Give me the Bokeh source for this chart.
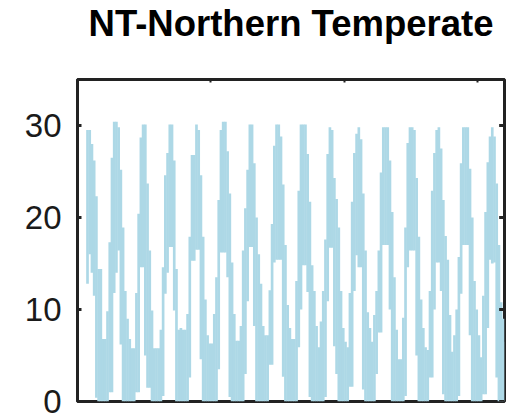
from bokeh.plotting import figure
from bokeh.models import Range1d, LinearAxis, FixedTicker, Title
from bokeh.embed import file_html
from bokeh.resources import INLINE

title_text = "NT-Northern Temperate"
start_year = 1995
start_month = 5  # first monthly value: May 1995

# monthly upper / lower extent of the temperature trace
monthly_high = [
    29.5, 29.5, 28.0, 26.2, 22.3, 14.4, 14.4, 6.8, 6.8, 9.8, 17.3, 26.5,
    30.4, 30.4, 29.8, 25.2, 18.9, 12.0, 9.0, 6.8, 5.8, 5.8, 11.8, 20.4,
    28.7, 30.1, 30.1, 23.7, 16.4, 9.9, 5.8, 5.8, 5.8, 7.8, 14.6, 24.6,
    27.0, 30.1, 30.1, 26.2, 14.4, 7.8, 8.0, 7.8, 7.8, 9.5, 17.9, 26.8,
    26.8, 30.1, 29.5, 24.6, 17.9, 11.1, 7.2, 6.3, 6.3, 9.5, 13.5, 21.9,
    29.5, 30.4, 30.4, 27.2, 22.6, 15.1, 9.5, 6.6, 6.6, 8.2, 16.4, 21.0,
    25.2, 30.1, 30.1, 25.9, 20.0, 16.0, 12.8, 8.2, 7.2, 7.2, 12.1, 19.3,
    27.8, 30.1, 30.1, 28.8, 23.6, 17.0, 10.5, 8.0, 6.8, 6.8, 13.1, 22.9,
    30.1, 30.1, 30.1, 26.9, 21.7, 14.8, 12.0, 8.2, 5.9, 8.7, 12.0, 17.6,
    26.9, 29.8, 29.5, 24.3, 22.0, 18.9, 12.0, 8.0, 6.5, 5.9, 11.8, 21.7,
    27.0, 29.1, 29.8, 28.5, 22.6, 16.4, 9.7, 8.0, 6.5, 9.4, 12.0, 16.4,
    24.9, 29.8, 29.8, 29.8, 26.2, 20.6, 13.5, 7.8, 4.6, 4.6, 9.1, 18.9,
    28.1, 29.8, 29.8, 29.5, 24.3, 17.9, 11.1, 8.0, 5.9, 5.6, 12.0, 22.9,
    27.0, 29.5, 29.8, 27.5, 21.9, 18.0, 15.4, 9.4, 5.4, 7.2, 10.0, 15.7,
    25.9, 29.8, 29.8, 29.8, 25.3, 20.0, 13.1, 10.0, 7.2, 4.8, 11.5, 20.6,
    26.0, 28.8, 29.8, 28.8, 23.7, 17.0, 10.8, 9.0, 6.5,
]
monthly_low = [
    12.8, 16.0, 14.0, 11.5, 0.4, 0, 0, 0, 0, 0, 1.0, 1.0,
    11.8, 14.0, 16.4, 6.2, 0, 0, 0, 0, 0, 0, 1.0, 1.0,
    14.6, 14.6, 5.0, 1.5, 1.5, 0, 0, 0, 0, 0, 0.6, 11.7,
    14.0, 16.8, 16.8, 9.9, 0, 0, 0, 0, 0, 0, 2.6, 15.3,
    15.3, 16.5, 16.5, 4.6, 0, 0, 0, 0, 0, 0, 0, 3.5,
    16.2, 16.2, 16.2, 13.5, 0.5, 0, 0, 0, 0, 0, 0, 3.0,
    10.9, 16.8, 16.8, 8.2, 0, 0, 0, 0, 0, 0, 4.0, 4.0,
    15.1, 15.4, 15.4, 15.4, 2.7, 0, 0, 0, 0, 0, 0, 5.9,
    10.0, 14.8, 14.8, 11.9, 0.5, 0, 0, 0, 0, 0, 0, 0.5,
    10.9, 16.7, 16.7, 6.0, 3.0, 0, 0, 0, 0, 0, 1.6, 1.6,
    12.0, 15.9, 14.6, 14.6, 1.3, 0, 0, 0, 0, 0, 3.0, 7.5,
    7.5, 17.0, 17.0, 17.0, 10.0, 0, 0, 0, 0, 0, 0, 0.6,
    14.6, 16.4, 16.4, 16.4, 5.0, 0, 0, 0, 0, 0, 2.6, 2.6,
    10.0, 15.1, 15.1, 12.0, 0.8, 0, 0, 0, 0, 0, 0, 0.6,
    11.7, 17.0, 17.0, 17.0, 7.2, 0, 0, 0, 0, 0, 0.8, 0.8,
    8.0, 15.4, 15.0, 15.1, 2.6, 0, 0, 0, 0,
]
y_ticks = [0, 10, 20, 30]
x_ticks = [2000, 2005, 2010]
x_start, x_end = 1995, 2011

months = [start_year + (start_month - 1 + k + 0.5) / 12.0 for k in range(len(monthly_high))]

AX = "#222222"
p = figure(width=507, height=415, output_backend="svg", toolbar_location=None,
           title=None,
           x_range=Range1d(x_start, x_end), y_range=Range1d(0, 35),
           x_axis_location=None, min_border_left=77, min_border_right=3,
           min_border_top=0, min_border_bottom=14)

p.vbar(x=months, top=monthly_high, bottom=monthly_low, width=1.2 / 12,
       fill_color="#ADD8E6", line_color=None)

# inward tick marks on the right-hand frame edge
p.segment(x0=[x_end - 0.2] * len(y_ticks), x1=[x_end] * len(y_ticks),
          y0=y_ticks, y1=y_ticks, line_color=AX, line_width=3)

p.grid.visible = False
p.background_fill_color = "white"
p.border_fill_color = "white"
p.outline_line_color = AX
p.outline_line_width = 3

# left axis
ya = p.yaxis[0]
ya.ticker = FixedTicker(ticks=y_ticks)
ya.axis_line_color = AX
ya.axis_line_width = 3
ya.major_tick_in = 4
ya.major_tick_out = 0
ya.major_tick_line_width = 3
ya.major_tick_line_color = AX
ya.minor_tick_line_color = None
ya.major_label_standoff = 16
ya.major_label_text_font = "Liberation Sans"
ya.major_label_text_font_size = "33px"
ya.major_label_text_color = "#1a1a1a"

# top axis (ticks only)
ta = LinearAxis(ticker=FixedTicker(ticks=x_ticks),
                major_label_overrides={t: "" for t in x_ticks},
                axis_line_color=AX, axis_line_width=3,
                major_tick_in=3, major_tick_out=0, major_tick_line_width=2,
                major_tick_line_color=AX, minor_tick_line_color=None,
                major_label_standoff=0, major_label_text_font_size="0px")
p.add_layout(ta, "above")

# blank spacer between the title and the frame
p.add_layout(Title(text=" ", standoff=33, text_font_size="1px",
                   text_color="white"), "above")

ttl = Title(text=title_text, align="center", text_font="Liberation Sans",
            text_font_style="bold", text_font_size="36.5px", text_color="black",
            vertical_align="bottom", standoff=0)
p.add_layout(ttl, "above")

open("out.html", "w").write(file_html(p, INLINE))
